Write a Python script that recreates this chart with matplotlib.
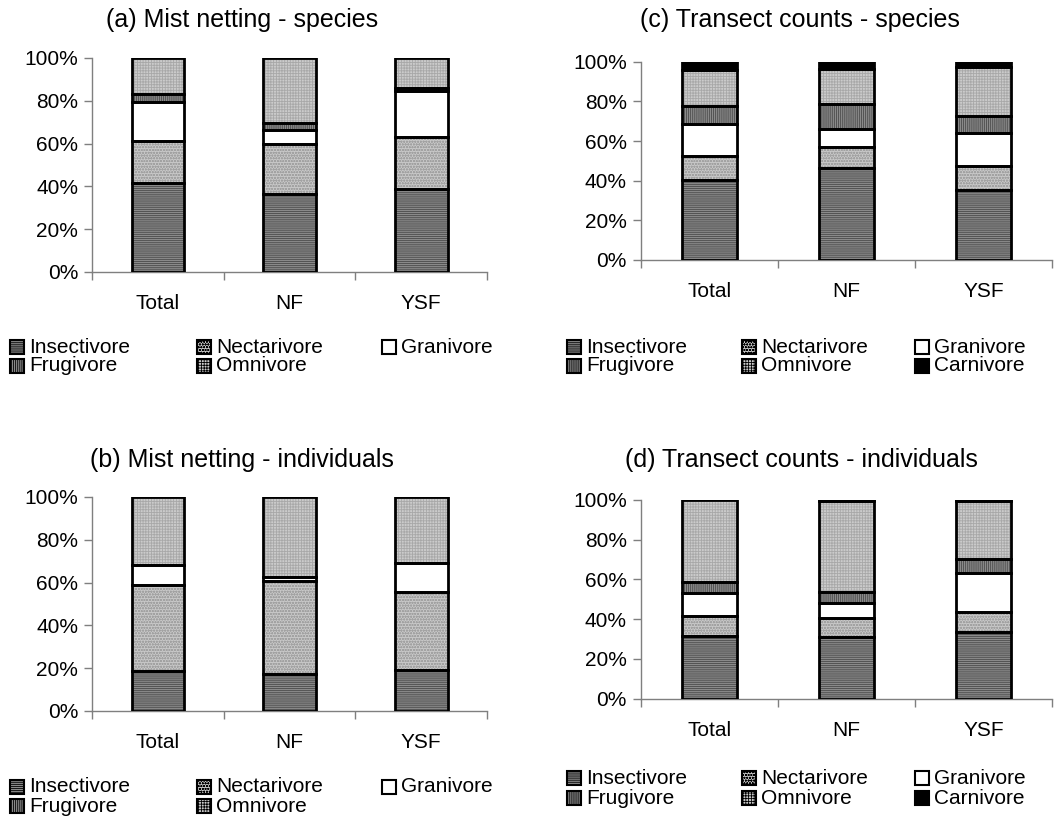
import numpy as np
import matplotlib
matplotlib.use("Agg")
import matplotlib.pyplot as plt
from matplotlib.patches import Rectangle
from matplotlib.ticker import FixedLocator, PercentFormatter

plt.rcParams['font.family'] = ['Liberation Sans', 'DejaVu Sans']
plt.rcParams['hatch.linewidth'] = 0.6

sites = ["Total", "NF", "YSF"]

# percentage of each feeding guild per site
mist_sp_insect = [41.7, 36.3, 38.9]
mist_sp_nectar = [19.7, 23.5, 24.0]
mist_sp_grani = [18.2, 6.6, 21.7]
mist_sp_frugi = [3.4, 3.4, 1.2]
mist_sp_omni = [17.0, 30.2, 14.2]

mist_ind_insect = [18.8, 17.3, 19.3]
mist_ind_nectar = [40.1, 43.6, 36.5]
mist_ind_grani = [9.2, 1.9, 13.4]
mist_ind_frugi = [0.0, 0.0, 0.0]
mist_ind_omni = [31.9, 37.2, 30.8]

tran_sp_insect = [40.3, 46.2, 35.3]
tran_sp_nectar = [12.1, 10.6, 12.3]
tran_sp_grani = [16.0, 9.1, 16.3]
tran_sp_frugi = [9.3, 12.8, 8.9]
tran_sp_omni = [18.1, 17.5, 24.4]
tran_sp_carni = [4.2, 3.8, 2.8]

tran_ind_insect = [31.6, 30.9, 33.4]
tran_ind_nectar = [10.0, 9.6, 10.4]
tran_ind_grani = [11.4, 7.8, 19.3]
tran_ind_frugi = [5.9, 5.2, 7.1]
tran_ind_omni = [41.1, 46.0, 29.3]
tran_ind_carni = [0.0, 0.5, 0.5]

# guild name -> (face colour, hatch, hatch colour)
styles = {
    "Insectivore": ("#8a8a8a", "--------", "#4a4a4a"),
    "Nectarivore": ("#c8c8c8", "oooooo", "#a2a2a2"),
    "Granivore": ("white", "", "white"),
    "Frugivore": ("#8a8a8a", "||||||||", "#4a4a4a"),
    "Omnivore": ("#cbcbcb", "++++++", "#a8a8a8"),
    "Carnivore": ("black", "", "black"),
}

panels = [
    ("(a) Mist netting - species", [0.0873, 0.6667, 0.3748, 0.2623],
     [("Insectivore", mist_sp_insect), ("Nectarivore", mist_sp_nectar),
      ("Granivore", mist_sp_grani), ("Frugivore", mist_sp_frugi),
      ("Omnivore", mist_sp_omni)]),
    ("(b) Mist netting - individuals", [0.0873, 0.1287, 0.3748, 0.2623],
     [("Insectivore", mist_ind_insect), ("Nectarivore", mist_ind_nectar),
      ("Granivore", mist_ind_grani), ("Frugivore", mist_ind_frugi),
      ("Omnivore", mist_ind_omni)]),
    ("(c) Transect counts - species", [0.6079, 0.6814, 0.3902, 0.2430],
     [("Insectivore", tran_sp_insect), ("Nectarivore", tran_sp_nectar),
      ("Granivore", tran_sp_grani), ("Frugivore", tran_sp_frugi),
      ("Omnivore", tran_sp_omni), ("Carnivore", tran_sp_carni)]),
    ("(d) Transect counts - individuals", [0.6079, 0.1438, 0.3902, 0.2435],
     [("Insectivore", tran_ind_insect), ("Nectarivore", tran_ind_nectar),
      ("Granivore", tran_ind_grani), ("Frugivore", tran_ind_frugi),
      ("Omnivore", tran_ind_omni), ("Carnivore", tran_ind_carni)]),
]

# title centre and legend grid, in figure pixels
title_pos = [(242, 20), (242, 460), (800, 20), (801, 460)]
legend_cols = [(10, 197, 382), (10, 197, 382), (567, 742, 915), (567, 742, 915)]
legend_rows = [(347, 366), (787, 806), (347, 366), (778, 798)]
legend_rows_order = [["Insectivore", "Nectarivore", "Granivore"],
                     ["Frugivore", "Omnivore", "Carnivore"]]

W, H = 1054, 816
fig = plt.figure(figsize=(W / 100, H / 100), dpi=100)

x = np.arange(len(sites))
for i, (title, rect, series) in enumerate(panels):
    ax = fig.add_axes(rect)
    bottom = np.zeros(len(sites))
    for name, vals in series:
        vals = np.array(vals)
        face, hatch, hcol = styles[name]
        keep = vals > 0
        ax.bar(x[keep], vals[keep], 0.4, bottom=bottom[keep], color=face,
               hatch=hatch, edgecolor=hcol, linewidth=0, zorder=2)
        ax.bar(x[keep], vals[keep], 0.4, bottom=bottom[keep], fill=False,
               edgecolor="black", linewidth=2.0, zorder=3)
        bottom += vals

    ax.set_xlim(-0.5, len(sites) - 0.5)
    ax.set_ylim(0, 100)
    ax.yaxis.set_major_locator(FixedLocator(np.arange(0, 101, 20)))
    ax.yaxis.set_major_formatter(PercentFormatter(decimals=0))
    ax.set_xticks(x)
    ax.set_xticklabels(sites)
    ax.xaxis.set_minor_locator(FixedLocator(np.arange(-0.5, len(sites), 1.0)))
    ax.tick_params(axis="x", which="major", length=0, pad=16, labelsize=15)
    ax.tick_params(axis="x", which="minor", length=6, width=1, color="#7f7f7f",
                   direction="out")
    ax.tick_params(axis="y", length=6, width=1, color="#7f7f7f", labelsize=15,
                   pad=4)
    for side in ("top", "right"):
        ax.spines[side].set_visible(False)
    for side in ("left", "bottom"):
        ax.spines[side].set_color("#7f7f7f")
        ax.spines[side].set_linewidth(1.0)

    tx, ty = title_pos[i]
    fig.text(tx / W, 1 - ty / H, title, ha="center", va="center", fontsize=18)

    # legend keys laid out row by row
    names = [n for n, _ in series]
    for r, row in enumerate(legend_rows_order):
        for c, name in enumerate(row):
            if name not in names:
                continue
            face, hatch, hcol = styles[name]
            lx = legend_cols[i][c]
            ly = legend_rows[i][r]
            key = Rectangle((lx / W, 1 - (ly + 7) / H), 14 / W, 14 / H,
                            transform=fig.transFigure, facecolor=face,
                            hatch=hatch, edgecolor="black", linewidth=1.5)
            fig.patches.append(key)
            fig.text((lx + 19) / W, 1 - ly / H, name, ha="left", va="center",
                     fontsize=15)

fig.savefig("out.png", dpi=100)
